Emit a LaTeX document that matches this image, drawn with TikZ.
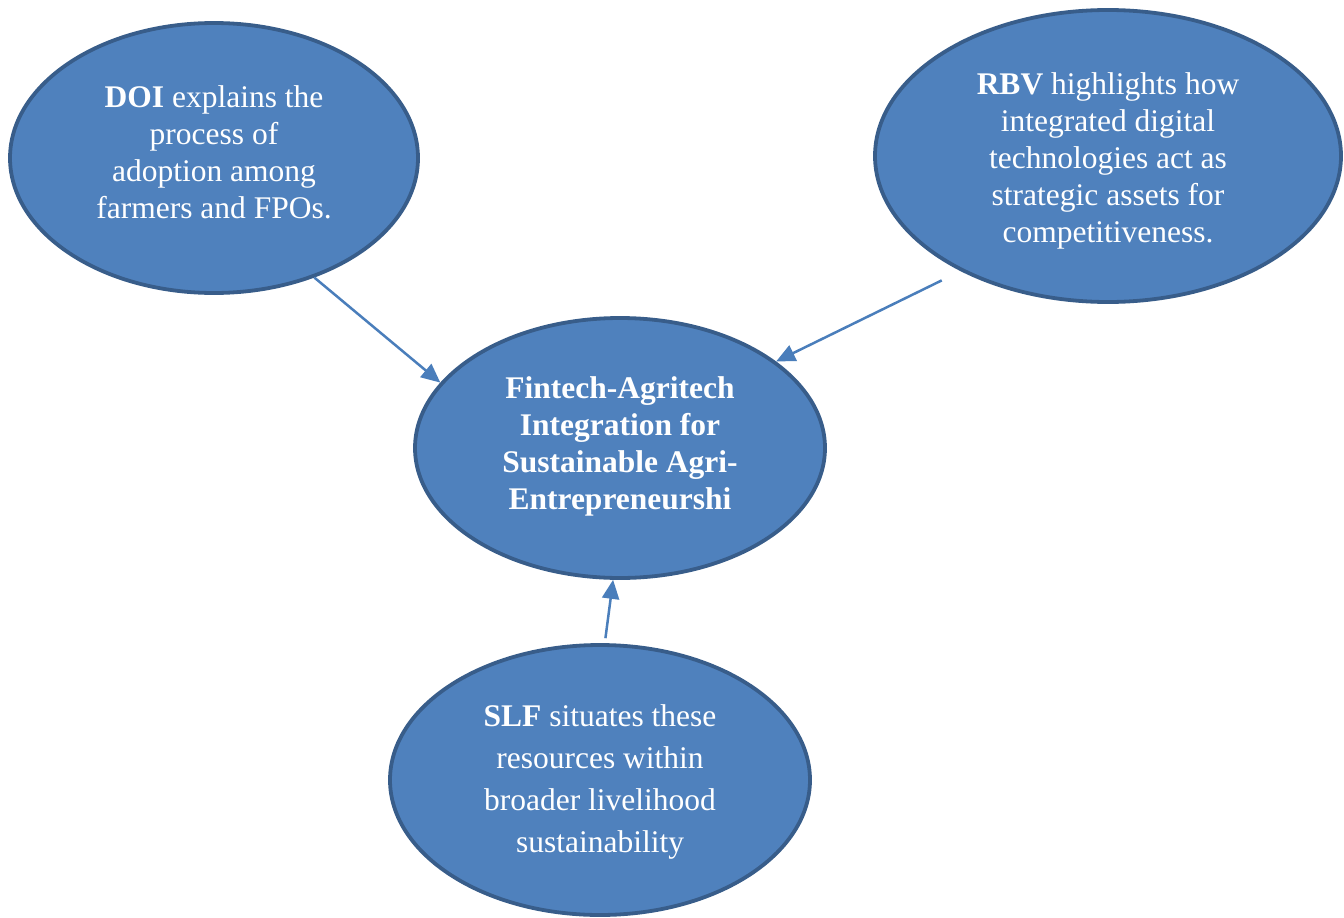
\documentclass[tikz,border=0pt]{standalone}
\usepackage{fontspec}
\setmainfont{Liberation Serif}
\usetikzlibrary{shapes.geometric,arrows.meta}
\definecolor{bubblefill}{HTML}{4F81BD}
\definecolor{bubbleline}{HTML}{385D8A}
\definecolor{linkcolor}{HTML}{4A7EBB}
\tikzset{
  bubble/.style={ellipse, draw=bubbleline, line width=3.8pt, fill=bubblefill,
    inner sep=0pt},
  bubbletext/.style={text=white, align=center, inner sep=0pt,
    font=\fontsize{31.5}{37}\selectfont},
  link/.style={draw=linkcolor, line width=2.5pt,
    -{Triangle[length=19pt,width=17pt]}}
}
\begin{document}
\begin{tikzpicture}[x=1pt,y=-1pt]
\useasboundingbox (0,0) rectangle (1344,918);

% the four ellipses
\node[bubble, minimum width=408pt, minimum height=270pt] (doi) at (214,158) {};
\node[bubble, minimum width=466pt, minimum height=292pt] (rbv) at (1108,156) {};
\node[bubble, minimum width=410pt, minimum height=260pt] (core) at (620,448) {};
\node[bubble, minimum width=420pt, minimum height=270pt] (slf) at (600,780) {};

% their texts
\node[bubbletext] (doitext) at ([yshift=6pt]doi.center)
  {\textbf{DOI} explains the\\process of\\adoption among\\farmers and FPOs.};
\node[bubbletext] (rbvtext) at ([yshift=-5pt]rbv.center)
  {\textbf{RBV} highlights how\\integrated digital\\technologies act as\\strategic assets for\\competitiveness.};
\node[bubbletext, font=\bfseries\fontsize{31.5}{37}\selectfont] (coretext) at ([yshift=2pt]core.center)
  {Fintech-Agritech\\Integration for\\Sustainable Agri-\\Entrepreneurshi};
\node[bubbletext, font=\fontsize{31.5}{42}\selectfont] (slftext) at ([yshift=-2pt]slf.center)
  {\textbf{SLF} situates these\\resources within\\broader livelihood\\sustainability};

% connectors towards the central ellipse
\draw[link] (doi.-50) -- (core.160);
\draw[link, shorten <=21pt] (rbv.-142) -- (core.29);
\draw[link, shorten <=5pt] (slf.88) -- (core.-93);
\end{tikzpicture}
\end{document}
